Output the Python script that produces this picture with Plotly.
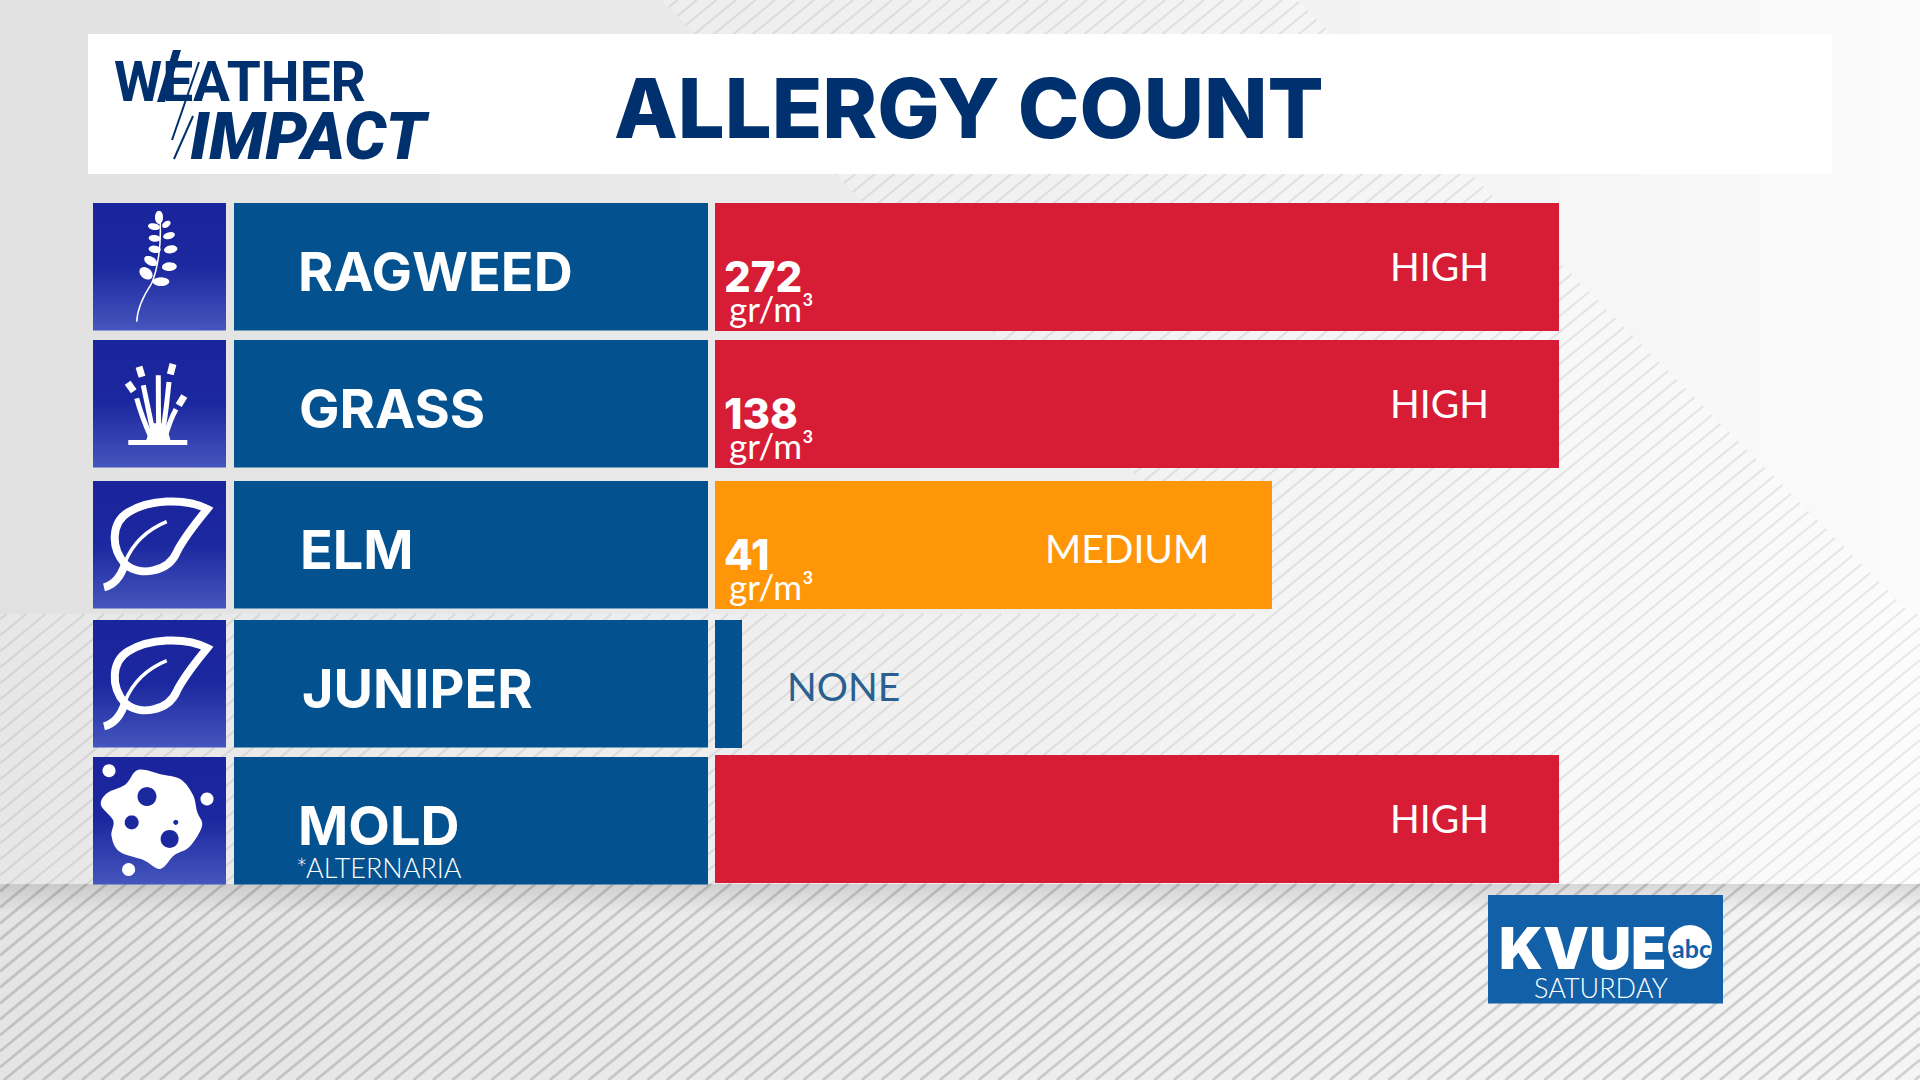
import plotly.graph_objects as go

# ---- data ----
categories = ["RAGWEED", "GRASS", "ELM", "JUNIPER", "MOLD"]
counts = ["272", "138", "41", None, None]
units = "gr/m³"
levels = ["HIGH", "HIGH", "MEDIUM", "NONE", "HIGH"]
bar_lengths = [100, 100, 66, 3.2, 100]

# ---- layout (pixels on a 1920x1080 canvas) ----
W, H = 1920, 1080
row_tops = [203, 340, 481, 620, 757]
row_h = 127.5
bar_tops = [203, 340, 481, 620, 755]
bar_centres = [t + row_h / 2 for t in bar_tops]
bar_colors = ["#d71c35", "#d71c35", "#ff9608", "#03528f", "#d71c35"]
BAR_X0, BAR_X1 = 715, 1559
NAVY = "#00306e"
BLUE = "#03528f"
BOX_BLUE = "#1160a8"
FONT = "Lato"
HEAVY = "Inter"

shapes = []


def rect(x0, y0, x1, y1, color, layer="below"):
    shapes.append(dict(type="rect", xref="x", yref="y", x0=x0, y0=y0, x1=x1, y1=y1,
                       fillcolor=color, line_width=0, layer=layer))


def lerp_gray(stops, x):
    for (a, ga), (b, gb) in zip(stops, stops[1:]):
        if a <= x <= b:
            return ga + (gb - ga) * (x - a) / (b - a)
    return stops[-1][1]


def gray(v):
    v = int(round(v))
    return f"rgb({v},{v},{v})"


# background gradients
top_stops = [(0, 225), (960, 237), (1400, 243), (1920, 251)]
bot_stops = [(0, 228), (960, 236), (1920, 245)]
STEP = 40
for x in range(0, W, STEP):
    rect(x, 0, x + STEP, 884, gray(lerp_gray(top_stops, x + STEP / 2)))
    rect(x, 884, x + STEP, H, gray(lerp_gray(bot_stops, x + STEP / 2)))

# lighter hatched panels
DX0, DX1 = 661, 1297
PANEL_Y = 614
shapes.append(dict(type="path", xref="x", yref="y", layer="below", line_width=0,
                   fillcolor="rgba(255,255,255,0.22)",
                   path=f"M{DX0},0 L{DX1},0 L{W},{W-DX1} L{W},884 L0,884 L0,{PANEL_Y} L{DX0+PANEL_Y},{PANEL_Y} Z"))

# hatch lines
SLOPE = 0.82
PITCH = 19.5
WIDEN = 1 + 1 / SLOPE


def hatch(y0, y1, left=None, right=None):
    """Clip the rising hatch lines to a band, optionally between two 45 degree edges."""
    segs = []
    c = -200.0
    while c < W + 2000:
        a, b = y0, y1
        if left is not None:
            b = min(b, (c - left) / WIDEN)
        if right is not None:
            a = max(a, (c - right) / WIDEN)
        # clip to the canvas
        a = max(a, (c - W) * SLOPE)
        b = min(b, c * SLOPE)
        if b > a:
            segs.append(f"M{c-a/SLOPE:.1f},{a:.1f} L{c-b/SLOPE:.1f},{b:.1f}")
        c += PITCH
    return " ".join(segs)


for path, col, wid in [
    (hatch(0, PANEL_Y, DX0, DX1), "rgba(0,0,0,0.08)", 2.2),
    (hatch(PANEL_Y, 884), "rgba(0,0,0,0.08)", 2.2),
    (hatch(884, H), "rgba(0,0,0,0.15)", 2.8),
]:
    shapes.append(dict(type="path", xref="x", yref="y", layer="below", path=path,
                       line=dict(color=col, width=wid)))

# soft shadow under the panel
for i in range(14):
    rect(0, 884 + i * 2, W, 886 + i * 2, f"rgba(0,0,0,{0.11 * (1 - i / 14):.3f})")

# header, label cells, logo box
rect(88, 34, 1832, 174, "#ffffff")
for t in row_tops:
    rect(234, t, 708, t + row_h, BLUE)
rect(1488, 895, 1723, 1003.5, BOX_BLUE)

# ---- traces ----
fig = go.Figure()
for t in row_tops:
    fig.add_trace(go.Scatter(
        x=[93, 226, 226, 93, 93], y=[t, t, t + row_h, t + row_h, t], mode="lines",
        line=dict(width=0), fill="toself", hoverinfo="skip", showlegend=False,
        fillgradient=dict(type="vertical", start=t, stop=t + row_h,
                          colorscale=[[0, "#1a249c"], [0.5, "#1c289f"], [1, "#4556bd"]]),
    ))

fig.add_trace(go.Bar(
    x=bar_lengths, y=bar_centres, width=row_h, orientation="h",
    marker=dict(color=bar_colors, line_width=0),
    xaxis="x2", yaxis="y", hoverinfo="skip", showlegend=False,
))

# ---- icons (white marks drawn above the gradient boxes) ----


def icon(path, fill=None, stroke=None, width=0):
    d = dict(type="path", xref="x", yref="y", layer="above", path=path)
    d["fillcolor"] = fill if fill else "rgba(0,0,0,0)"
    d["line"] = dict(color=stroke, width=width) if stroke else dict(width=0)
    shapes.append(d)


def ellipse(cx, cy, rx, ry, deg=0.0):
    import math
    a = math.radians(deg)
    pts = []
    for k in range(24):
        t = 2 * math.pi * k / 24
        x, y = rx * math.cos(t), ry * math.sin(t)
        pts.append((cx + x * math.cos(a) - y * math.sin(a), cy + x * math.sin(a) + y * math.cos(a)))
    return "M" + " L".join(f"{p:.1f},{q:.1f}" for p, q in pts) + " Z"


# ragweed: coordinates follow a 3x crop whose origin is (80,190)
def rw(x, y):
    return 80 + x / 3, 190 + y / 3


def pt(fn, x, y):
    a, b = fn(x, y)
    return f"{a:.1f},{b:.1f}"


icon("M" + pt(rw, 170, 395) + " C" + pt(rw, 172, 350) + " " + pt(rw, 195, 310) + " " + pt(rw, 215, 280)
     + " C" + pt(rw, 232, 240) + " " + pt(rw, 245, 170) + " " + pt(rw, 240, 85), stroke="#ffffff", width=1.5)
for (x, y, rx, ry, d) in [(237, 82, 12, 20, 0), (259, 103, 14, 9, -35), (222, 110, 18, 10, 10),
                          (267, 137, 18, 10, -15), (224, 145, 18, 10, 5), (272, 178, 20, 12, -10),
                          (224, 178, 18, 11, 8), (268, 230, 22, 13, -3), (212, 213, 21, 13, 30),
                          (243, 275, 25, 13, 0), (198, 250, 22, 16, 40)]:
    a, b = rw(x, y)
    icon(ellipse(a, b, rx / 3, ry / 3, d), fill="#ffffff")

# grass
icon("M" + pt(rw, 145, 750) + " L" + pt(rw, 322, 750) + " L" + pt(rw, 322, 765) + " L" + pt(rw, 145, 765) + " Z",
     fill="#ffffff")
icon("M" + pt(rw, 198, 752) + " L" + pt(rw, 272, 752) + " L" + pt(rw, 256, 700) + " L" + pt(rw, 216, 700) + " Z",
     fill="#ffffff")
for (x0, y0, qx, qy, x1, y1) in [(235, 556, 235, 640, 236, 730), (190, 586, 203, 650, 220, 730),
                                 (170, 625, 185, 680, 212, 740), (267, 576, 260, 650, 248, 730),
                                 (288, 658, 270, 690, 256, 740)]:
    icon("M" + pt(rw, x0, y0) + " Q" + pt(rw, qx, qy) + " " + pt(rw, x1, y1), stroke="#ffffff", width=5)
for (x0, y0, x1, y1) in [(177, 530, 186, 560), (279, 522, 271, 553), (143, 578, 161, 604), (313, 618, 296, 646)]:
    icon("M" + pt(rw, x0, y0) + " L" + pt(rw, x1, y1), stroke="#ffffff", width=7)


# leaf: 3x crop with origin (90,row-top)
def leaf(top):
    f = lambda x, y: (90 + x / 3, top - 2 + y / 3)
    icon("M" + pt(f, 105, 255) + " C" + pt(f, 60, 205) + " " + pt(f, 65, 130) + " " + pt(f, 115, 100)
         + " C" + pt(f, 175, 62) + " " + pt(f, 285, 55) + " " + pt(f, 352, 90)
         + " C" + pt(f, 320, 130) + " " + pt(f, 285, 170) + " " + pt(f, 260, 220)
         + " C" + pt(f, 235, 278) + " " + pt(f, 150, 295) + " " + pt(f, 105, 255), stroke="#ffffff", width=8)
    icon("M" + pt(f, 105, 250) + " Q" + pt(f, 140, 165) + " " + pt(f, 230, 128), stroke="#ffffff", width=3.5)
    icon("M" + pt(f, 42, 325) + " Q" + pt(f, 85, 315) + " " + pt(f, 105, 255), stroke="#ffffff", width=8)


leaf(row_tops[2])
leaf(row_tops[3])


# mold: stretched crop, 1.633x horizontally and 2.904x vertically from (0,540)
def md(x, y):
    return x / 1.633, 540 + y / 2.904


blob = [(225, 668), (262, 680), (295, 695), (315, 740), (322, 790), (330, 830), (310, 890), (285, 915),
        (262, 955), (235, 930), (195, 905), (182, 860), (185, 815), (165, 770), (175, 735), (205, 710)]
n = len(blob)
path = "M" + pt(md, *blob[0])
for i in range(n):
    p0, p1, p2, p3 = blob[i - 1], blob[i], blob[(i + 1) % n], blob[(i + 2) % n]
    c1 = (p1[0] + (p2[0] - p0[0]) / 6, p1[1] + (p2[1] - p0[1]) / 6)
    c2 = (p2[0] - (p3[0] - p1[0]) / 6, p2[1] - (p3[1] - p1[1]) / 6)
    path += " C" + pt(md, *c1) + " " + pt(md, *c2) + " " + pt(md, *p2)
icon(path + " Z", fill="#ffffff")
for (x, y, r) in [(240, 745, 9.5), (215, 820, 7), (277, 868, 9), (287, 820, 2.5)]:
    a, b = md(x, y)
    icon(ellipse(a, b, r, r), fill="#1c289d")
for (x, y, r) in [(178, 670, 6.5), (338, 752, 6.5), (210, 957, 6.5)]:
    a, b = md(x, y)
    icon(ellipse(a, b, r, r), fill="#ffffff")

# logo strokes
icon("M173,50 L181,50 L165,102 L157,102 Z", fill=NAVY)
icon("M199,62 L172,140", stroke=NAVY, width=2)
icon("M193,116 L174,159", stroke=NAVY, width=2)
# abc disc
icon(ellipse(1690, 947, 22, 22), fill="#ffffff")

# ---- texts ----
ann = []


def text(x, y, s, size, color="#ffffff", weight=400, anchor="left", family=FONT, style="normal"):
    ann.append(dict(x=x, y=y, xref="x", yref="y", text=s, showarrow=False, xanchor=anchor, yanchor="middle",
                    font=dict(family=family, size=size, color=color, weight=weight, style=style),
                    align="left", borderpad=0, borderwidth=0))


text(614, 108, "ALLERGY COUNT", 83, NAVY, 800, family=HEAVY)
text(114, 82, "WEATHER", 55, NAVY, 700, family="Roboto")
text(190, 136, "IMPACT", 66, NAVY, 900, family="Roboto", style="italic")

label_x = [298, 299, 300, 302, 298]
label_y = [271, 408, 549, 688, 825]
for x, y, s in zip(label_x, label_y, categories):
    text(x, y, s, 54, "#ffffff", 700, family=HEAVY)
text(296, 867, "*ALTERNARIA", 27, "#ffffff", 300)

count_x = 724
for t, c in zip(bar_tops, counts):
    if c:
        text(count_x, t + 73, c, 42, "#ffffff", 800, family=HEAVY)
        text(729, t + 105, units, 35, "#ffffff", 400)

level_x = [1390, 1390, 1045, 787, 1390]
level_y = [266, 403, 548, 686, 818]
level_col = ["#ffffff", "#ffffff", "#ffffff", "#2b5f8f", "#ffffff"]
for x, y, s, c in zip(level_x, level_y, levels, level_col):
    text(x, y, s, 39, c, 400)

text(1499, 948, "KVUE", 58, "#ffffff", 900, family=HEAVY)
text(1691, 948, "abc", 25, BOX_BLUE, 700, anchor="center")
text(1601, 987, "SATURDAY", 27, "#ffffff", 300, anchor="center")

fig.update_layout(
    width=W, height=H, margin=dict(l=0, r=0, t=0, b=0), autosize=False,
    paper_bgcolor="#eeeeee", plot_bgcolor="rgba(0,0,0,0)",
    showlegend=False, bargap=0, shapes=shapes, annotations=ann,
    xaxis=dict(range=[0, W], domain=[0, 1], visible=False, fixedrange=True),
    xaxis2=dict(range=[0, 100], domain=[BAR_X0 / W, BAR_X1 / W], anchor="y", visible=False, fixedrange=True),
    yaxis=dict(range=[H, 0], domain=[0, 1], visible=False, fixedrange=True),
)
fig.write_html("out.html", config=dict(displayModeBar=False),
               post_script="document.body.style.margin='0';document.body.style.overflow='hidden';")
